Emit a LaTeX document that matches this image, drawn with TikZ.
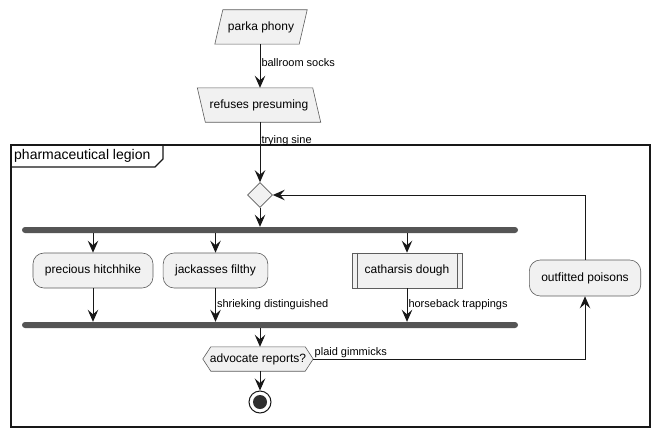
\documentclass[tikz,border=0pt]{standalone}
\usepackage{fontspec}
\setmainfont{Liberation Sans}
\usetikzlibrary{arrows.meta,shapes.geometric}
\definecolor{boxfill}{HTML}{F1F1F1}
\definecolor{boxline}{HTML}{181818}
\definecolor{barfill}{HTML}{555555}
\tikzset{
  flow/.style={draw=boxline,line width=1pt,-{Stealth[length=12pt,width=10.5pt,inset=4.5pt]}},
  lbl/.style={font=\fontsize{11}{13}\selectfont,inner sep=1pt,text=black},
  txt/.style={font=\fontsize{12}{14}\selectfont,inner sep=0pt},
  inbox/.style={fill=boxfill,draw=boxline!70,line width=0.6pt},
  activity/.style={txt,inbox,rounded corners=11pt,minimum height=35pt,inner xsep=12pt},
  barnode/.style={fill=barfill,draw=none,minimum width=496pt,minimum height=6pt,inner sep=0pt,rounded corners=3pt}
}
\begin{document}
\begin{tikzpicture}[x=1pt,y=-1pt]
\useasboundingbox (0,0) rectangle (660,436);
\fill[white] (0,0) rectangle (660,436);
\node[txt,minimum width=84pt,minimum height=34pt] (parka) at (261,27) {};
\draw[inbox] ([xshift=4pt]parka.north west) -- ([xshift=4pt]parka.north east) -- ([xshift=-4pt]parka.south east) -- ([xshift=-4pt]parka.south west) -- cycle;
\node[txt] at (parka) {parka phony};
\node[txt,minimum width=115pt,minimum height=34pt] (refuses) at (259,105) {};
\draw[inbox] ([xshift=-4pt]refuses.north west) -- ([xshift=-4pt]refuses.north east) -- ([xshift=4pt]refuses.south east) -- ([xshift=4pt]refuses.south west) -- cycle;
\node[txt] at (refuses) {refuses presuming};
\draw[flow] (parka.south -| 260,0) -- (refuses.north -| 260,0) node[lbl,pos=0.43,anchor=west] {ballroom socks};
\draw[boxline,line width=1.3pt] (11,145) rectangle (650,427);
\draw[boxline,line width=1.3pt] (11,167) -- (155,167) -- (163,159) -- (163,145);
\node[font=\fontsize{14}{16}\selectfont,inner sep=0pt,anchor=west] (legion) at (14,156) {pharmaceutical legion};
\node[diamond,inbox,minimum size=25pt,inner sep=0pt] (loop) at (260,195) {};
\draw[flow] (refuses.south -| loop) -- (loop.north) node[lbl,pos=0.31,anchor=west] {trying sine};
\node[barnode] (fork) at (270,230) {};
\node[barnode] (join) at (270,325) {};
\draw[flow] (loop.south) -- (loop |- fork.north);
\node[activity] (precious) at (93,270.5) {precious hitchhike};
\node[activity] (jackasses) at (215.5,270.5) {jackasses filthy};
\node[txt,inbox,minimum height=35pt,inner xsep=12.5pt] (catharsis) at (407,270.5) {catharsis dough};
\draw[boxline!70,line width=0.6pt] ([xshift=5pt]catharsis.north west) -- ([xshift=5pt]catharsis.south west);
\draw[boxline!70,line width=0.6pt] ([xshift=-5pt]catharsis.north east) -- ([xshift=-5pt]catharsis.south east);
\node[activity,minimum height=36pt] (outfitted) at (585,278) {outfitted poisons};
\foreach \n in {precious,jackasses,catharsis}
  \draw[flow] (\n |- fork.south) -- (\n.north);
\draw[flow] (precious.south) -- (precious |- join.north);
\draw[flow] (jackasses.south) -- (jackasses |- join.north) node[lbl,pos=0.5,anchor=west] {shrieking distinguished};
\draw[flow] (catharsis.south) -- (catharsis |- join.north) node[lbl,pos=0.5,anchor=west] {horseback trappings};
\node[txt,minimum width=110pt,minimum height=24pt] (advocate) at (258,359) {};
\draw[inbox] (advocate.west) -- ([xshift=8pt]advocate.north west) -- ([xshift=-8pt]advocate.north east) -- (advocate.east) -- ([xshift=-8pt]advocate.south east) -- ([xshift=8pt]advocate.south west) -- cycle;
\node[txt] at (advocate) {advocate reports?};
\draw[flow] (join.south -| 260,0) -- (advocate.north -| 260,0);
\draw[flow] (advocate.east) -| (outfitted.south) node[lbl,pos=0,anchor=south west,inner ysep=0.5pt] {plaid gimmicks};
\draw[flow] (outfitted.north) |- (loop.east);
\node[circle,draw=boxline,line width=1pt,fill=white,minimum size=22pt,inner sep=0pt] (stop) at (260,402) {};
\fill[boxline!90] (stop) circle (7pt);
\draw[flow] (advocate.south -| 260,0) -- (stop.north);
\end{tikzpicture}
\end{document}
